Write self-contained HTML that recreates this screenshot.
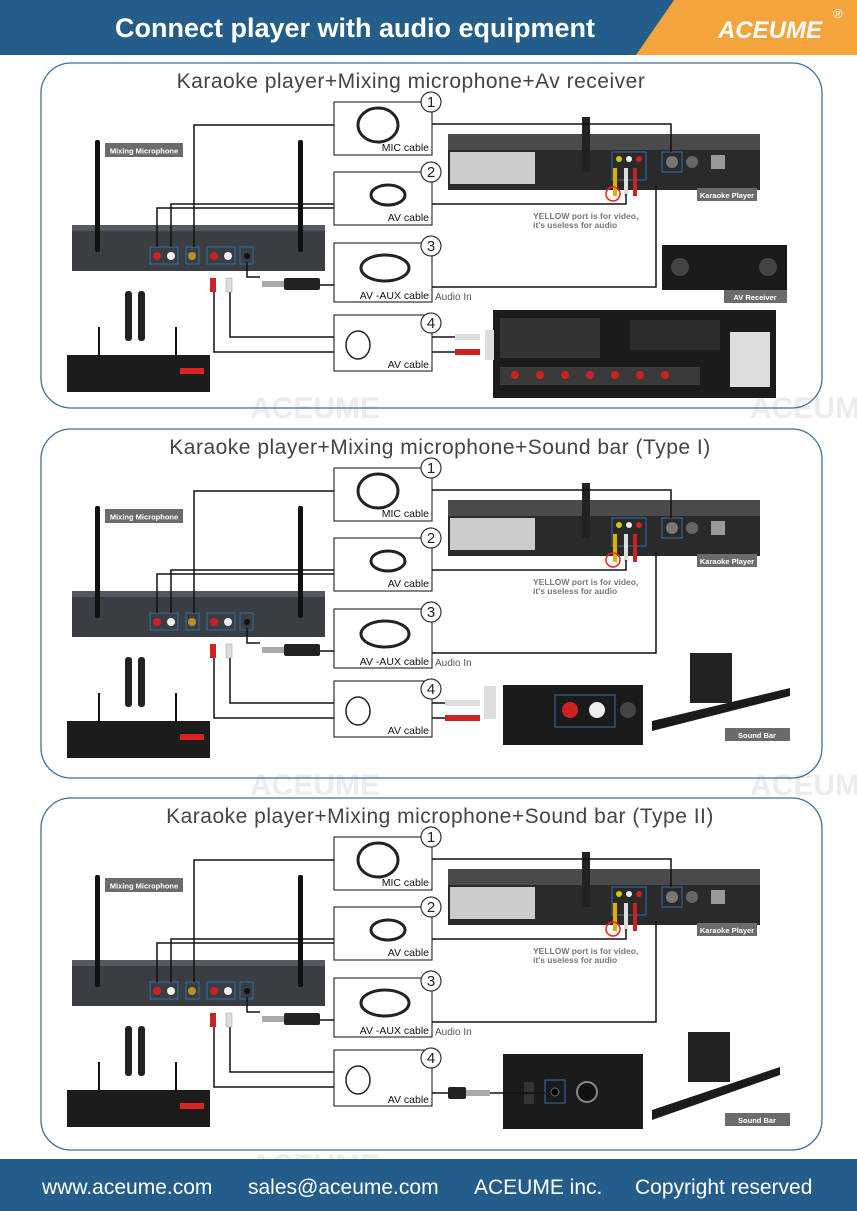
<!DOCTYPE html>
<html><head><meta charset="utf-8"><style>
html,body{margin:0;padding:0;background:#fff}
svg{display:block}
text{font-family:"Liberation Sans",sans-serif}
</style></head><body>
<svg width="857" height="1211" viewBox="0 0 857 1211" xmlns="http://www.w3.org/2000/svg">
<defs>
<g id="common">
  <rect x="334" y="40" width="98" height="53" fill="#fff" stroke="#333" stroke-width="1.2"/>
  <rect x="334" y="110" width="98" height="53" fill="#fff" stroke="#333" stroke-width="1.2"/>
  <rect x="334" y="181" width="98" height="59" fill="#fff" stroke="#333" stroke-width="1.2"/>
  <rect x="334" y="253" width="98" height="56" fill="#fff" stroke="#333" stroke-width="1.2"/>
  <g fill="#fff" stroke="#333" stroke-width="1.2">
    <circle cx="431" cy="40" r="10"/><circle cx="431" cy="110" r="10"/>
    <circle cx="431" cy="184" r="10"/><circle cx="431" cy="261" r="10"/>
  </g>
  <g font-size="15" text-anchor="middle" fill="#222">
    <text x="431" y="45">1</text><text x="431" y="115">2</text>
    <text x="431" y="189">3</text><text x="431" y="266">4</text>
  </g>
  <g font-size="10.5" fill="#111" text-anchor="end">
    <text x="429" y="89">MIC cable</text><text x="429" y="159">AV cable</text>
    <text x="429" y="237">AV -AUX cable</text><text x="429" y="306">AV cable</text>
  </g>
  <text x="435" y="238" font-size="10" fill="#555">Audio In</text>
  <g fill="none" stroke="#222" stroke-width="3">
    <ellipse cx="378" cy="63" rx="20" ry="17"/>
    <ellipse cx="388" cy="133" rx="17" ry="10"/>
    <ellipse cx="385" cy="206" rx="24" ry="13"/>
    <ellipse cx="358" cy="283" rx="12" ry="14" stroke-width="1.5"/>
  </g>
  <rect x="72" y="163" width="253" height="46" fill="#3a3d42"/>
  <rect x="72" y="163" width="253" height="6" fill="#55595f"/>
  <rect x="95" y="78" width="5" height="112" fill="#111" rx="2"/>
  <rect x="298" y="78" width="5" height="112" fill="#111" rx="2"/>
  <rect x="105" y="81" width="78" height="14" fill="#6b6b6b"/>
  <text x="144" y="91.5" font-size="7.5" font-weight="bold" fill="#fff" text-anchor="middle">Mixing Microphone</text>
  <g stroke="#2f6fa8" fill="none" stroke-width="1"><rect x="150" y="185" width="28" height="17"/><rect x="186" y="185" width="13" height="17"/><rect x="207" y="185" width="28" height="17"/><rect x="240" y="185" width="13" height="17"/></g>
  <circle cx="157" cy="194" r="4" fill="#c22"/><circle cx="171" cy="194" r="4" fill="#eee"/>
  <circle cx="192" cy="194" r="4" fill="#b98f2a"/><circle cx="214" cy="194" r="4" fill="#c22"/><circle cx="228" cy="194" r="4" fill="#eee"/><circle cx="247" cy="194" r="3" fill="#111"/>
  <rect x="125" y="229" width="7" height="50" fill="#222" rx="3"/><rect x="138" y="229" width="7" height="50" fill="#222" rx="3"/>
  <rect x="67" y="293" width="143" height="37" fill="#1c1c1c"/>
  <rect x="98" y="265" width="2" height="30" fill="#111"/><rect x="175" y="265" width="2" height="30" fill="#111"/>
  <rect x="180" y="306" width="24" height="6" fill="#d22"/>
  <rect x="448" y="72" width="312" height="18" fill="#4a4a4a"/>
  <rect x="448" y="88" width="312" height="40" fill="#2a2a2a"/>
  <rect x="450" y="90" width="85" height="32" fill="#ccc"/>
  <rect x="582" y="55" width="8" height="55" fill="#222"/>
  <g stroke="#2f6fa8" fill="none"><rect x="612" y="90" width="34" height="28"/><rect x="662" y="90" width="20" height="20"/></g>
  <circle cx="619" cy="97" r="3" fill="#d6c500"/><circle cx="629" cy="97" r="3" fill="#eee"/><circle cx="639" cy="97" r="3" fill="#c22"/>
  <circle cx="672" cy="100" r="6" fill="#777"/><circle cx="692" cy="100" r="6" fill="#666"/>
  <rect x="711" y="93" width="14" height="14" fill="#999"/>
  <rect x="697" y="126" width="60" height="13" fill="#6b6b6b"/>
  <text x="727" y="136" font-size="7.5" font-weight="bold" fill="#fff" text-anchor="middle">Karaoke Player</text>
  <rect x="613" y="106" width="4" height="28" fill="#e0b000"/><rect x="624" y="106" width="4" height="28" fill="#ddd"/><rect x="633" y="106" width="4" height="28" fill="#c22"/>
  <circle cx="613" cy="132" r="7" fill="none" stroke="#e22" stroke-width="1.5"/>
  <text x="533" y="157" font-size="8.5" fill="#777" font-weight="bold">YELLOW port is for video,</text>
  <text x="533" y="166" font-size="8.5" fill="#777" font-weight="bold">it's useless for audio</text>
  <g fill="none" stroke="#111" stroke-width="1.5">
    <polyline points="194,185 194,63 334,63"/>
    <polyline points="432,62 671,62 671,90"/>
    <polyline points="157,185 157,146 334,146"/>
    <polyline points="171,185 171,142 334,142"/>
    <polyline points="432,142 626,142 626,132"/>
    <polyline points="247,200 247,215 260,215"/>
    <polyline points="320,223 334,223"/>
    <polyline points="432,225 656,225 656,124"/>
    <polyline points="214,225 214,290 334,290"/>
    <polyline points="230,225 230,275 334,275"/>
  </g>
  <rect x="210" y="216" width="6" height="14" fill="#c22"/><rect x="226" y="216" width="6" height="14" fill="#ddd" stroke="#999" stroke-width=".5"/>
  <rect x="262" y="219" width="22" height="6" fill="#aaa"/><rect x="284" y="216" width="36" height="12" fill="#222" rx="2"/>
</g>
</defs>

<rect x="0" y="0" width="857" height="55" fill="#245d8a"/>
<polygon points="674,0 857,0 857,55 636,55" fill="#f3a43c"/>
<text x="355" y="37" font-size="27" font-weight="bold" fill="#fff" text-anchor="middle">Connect player with audio equipment</text>
<text x="770" y="38" font-size="24" font-weight="bold" fill="#fff" text-anchor="middle" font-style="italic">ACEUME</text>
<text x="833" y="18" font-size="13" fill="#fff">®</text>

<g fill="#ececec" font-weight="bold" font-size="30">
  <text x="250" y="418">ACEUME</text><text x="750" y="418">ACEUM</text>
  <text x="250" y="795">ACEUME</text><text x="750" y="795">ACEUM</text>
  <text x="250" y="1175">ACEUME</text>
</g>

<rect x="41" y="63" width="781" height="345" rx="30" fill="none" stroke="#3d6f9b" stroke-width="1.3"/>
<rect x="41" y="429" width="781" height="349" rx="30" fill="none" stroke="#3d6f9b" stroke-width="1.3"/>
<rect x="41" y="798" width="781" height="352" rx="30" fill="none" stroke="#3d6f9b" stroke-width="1.3"/>

<text x="411" y="88" font-size="21" fill="#444" text-anchor="middle" letter-spacing=".5">Karaoke player+Mixing microphone+Av receiver</text>
<text x="440" y="454" font-size="21" fill="#444" text-anchor="middle" letter-spacing=".5">Karaoke player+Mixing microphone+Sound bar (Type I)</text>
<text x="440" y="823" font-size="21" fill="#444" text-anchor="middle" letter-spacing=".5">Karaoke player+Mixing microphone+Sound bar (Type II)</text>

<g transform="translate(0,62)"><use href="#common"/>
  <rect x="662" y="183" width="125" height="45" fill="#1a1a1a"/>
  <circle cx="680" cy="205" r="9" fill="#444"/><circle cx="768" cy="205" r="9" fill="#444"/>
  <rect x="724" y="228" width="63" height="13" fill="#6b6b6b"/>
  <text x="755" y="238" font-size="7.5" font-weight="bold" fill="#fff" text-anchor="middle">AV Receiver</text>
  <rect x="493" y="248" width="283" height="88" fill="#1b1b1b"/>
  <rect x="500" y="256" width="100" height="40" fill="#333"/>
  <rect x="630" y="258" width="90" height="30" fill="#2c2c2c"/>
  <rect x="500" y="305" width="200" height="18" fill="#3a3a3a"/>
  <g fill="#c22"><circle cx="515" cy="313" r="4"/><circle cx="540" cy="313" r="4"/><circle cx="565" cy="313" r="4"/><circle cx="590" cy="313" r="4"/><circle cx="615" cy="313" r="4"/><circle cx="640" cy="313" r="4"/><circle cx="665" cy="313" r="4"/></g>
  <rect x="730" y="270" width="40" height="55" fill="#ddd"/>
  <rect x="485" y="268" width="9" height="30" fill="#ddd"/>
  <g fill="none" stroke="#111" stroke-width="1.5"><line x1="432" y1="275" x2="455" y2="275"/><line x1="432" y1="290" x2="455" y2="290"/></g>
  <rect x="455" y="272" width="25" height="6" fill="#ddd"/><rect x="455" y="287" width="25" height="6" fill="#c22"/>
</g>

<g transform="translate(0,428)"><use href="#common"/>
  <rect x="503" y="257" width="140" height="60" fill="#1b1b1b"/>
  <rect x="555" y="267" width="60" height="32" fill="none" stroke="#2f6fa8"/>
  <circle cx="570" cy="282" r="8" fill="#c22"/><circle cx="597" cy="282" r="8" fill="#eee"/><circle cx="628" cy="282" r="8" fill="#444"/>
  <rect x="484" y="258" width="12" height="33" fill="#ddd"/>
  <g fill="none" stroke="#111" stroke-width="1.5"><line x1="432" y1="275" x2="445" y2="275"/><line x1="432" y1="290" x2="445" y2="290"/></g>
  <rect x="445" y="272" width="35" height="6" fill="#ddd"/><rect x="445" y="287" width="35" height="6" fill="#c22"/>
  <rect x="690" y="225" width="42" height="50" fill="#222"/>
  <polygon points="652,293 790,260 790,268 652,303" fill="#1b1b1b"/>
  <rect x="725" y="300" width="65" height="13" fill="#6b6b6b"/>
  <text x="757" y="310" font-size="7.5" font-weight="bold" fill="#fff" text-anchor="middle">Sound Bar</text>
</g>

<g transform="translate(0,797)"><use href="#common"/>
  <rect x="503" y="257" width="140" height="75" fill="#1b1b1b"/>
  <rect x="545" y="283" width="20" height="23" fill="none" stroke="#2f6fa8"/>
  <rect x="524" y="285" width="10" height="22" fill="#333"/>
  <circle cx="555" cy="295" r="4" fill="#000" stroke="#666"/>
  <circle cx="587" cy="295" r="10" fill="#111" stroke="#888" stroke-width="2"/>
  <g fill="none" stroke="#111" stroke-width="1.5"><line x1="432" y1="296" x2="448" y2="296"/><line x1="490" y1="296" x2="545" y2="296"/></g>
  <rect x="448" y="290" width="18" height="12" fill="#222" rx="2"/><rect x="466" y="293" width="24" height="6" fill="#aaa"/>
  <rect x="688" y="235" width="42" height="50" fill="#222"/>
  <polygon points="652,313 780,270 780,278 652,323" fill="#1b1b1b"/>
  <rect x="725" y="316" width="65" height="13" fill="#6b6b6b"/>
  <text x="757" y="326" font-size="7.5" font-weight="bold" fill="#fff" text-anchor="middle">Sound Bar</text>
</g>

<rect x="0" y="1159" width="857" height="52" fill="#245d8a"/>
<text x="42" y="1194" font-size="21" fill="#fff">www.aceume.com</text>
<text x="248" y="1194" font-size="21" fill="#fff">sales@aceume.com</text>
<text x="474" y="1194" font-size="21" fill="#fff">ACEUME inc.</text>
<text x="635" y="1194" font-size="21" fill="#fff">Copyright reserved</text>
</svg>
</body></html>
